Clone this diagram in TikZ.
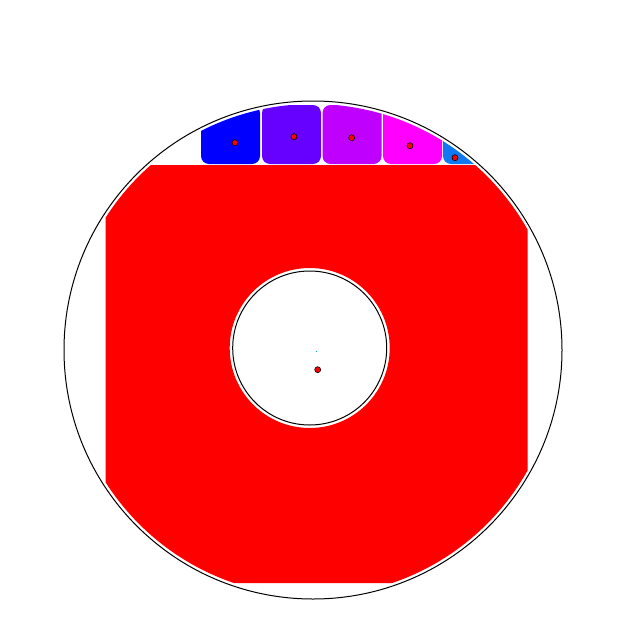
\documentclass[tikz,border=0pt]{standalone}
\definecolor{cA}{RGB}{0,0,255}
\definecolor{cB}{RGB}{102,0,255}
\definecolor{cC}{RGB}{192,0,255}
\definecolor{cD}{RGB}{255,0,255}
\definecolor{cE}{RGB}{16,120,240}
\definecolor{tinyc}{RGB}{0,170,190}
\tikzset{
  dot/.style={circle, fill=red, draw=black, line width=0.6pt, inner sep=0pt, minimum size=6pt},
  tile/.style={rounded corners=8pt},
  ring/.style={draw=black, line width=1pt}
}
\begin{document}
\begin{tikzpicture}[x=1pt,y=-1pt]
\useasboundingbox (0,0) rectangle (630,640);
\fill[white] (0,0) rectangle (630,640);
% red region clipped by circle with hole
\begin{scope}
  \clip (313,350) circle (246pt);
  \fill[red, even odd rule] (105.7,165) rectangle (527.7,583) (309.7,348) circle (80pt);
\end{scope}
% coloured tiles at top
\begin{scope}
  \clip (313,350) circle (246pt);
  \fill[cA, tile] (201,105) rectangle (260,164);
  \fill[cB, tile] (262,105) rectangle (321,164);
  \fill[cC, tile] (322.5,105) rectangle (381.5,164);
  \fill[cD, tile] (383,105) rectangle (442,164);
  \fill[cE, tile] (443,105) rectangle (502,164);
\end{scope}
% outer and inner circles
\draw[ring] (313,350) circle (249pt);
\draw[ring] (309.7,348) circle (77pt);
% dots
\node[dot] (d1) at (235,142.7) {};
\node[dot] (d2) at (294,136.7) {};
\node[dot] (d3) at (351.7,137.7) {};
\node[dot] (d4) at (410,145.7) {};
\node[dot] (d5) at (455,157.7) {};
\node[dot] (d6) at (317.7,369.7) {};
\fill[tinyc] (316.5,351.5) circle (0.7pt);
\end{tikzpicture}
\end{document}
